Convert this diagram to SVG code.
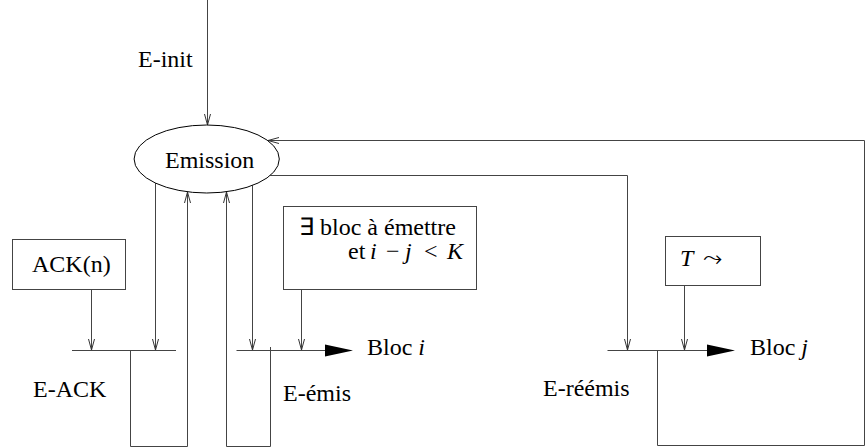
<svg xmlns="http://www.w3.org/2000/svg" width="865" height="447" viewBox="0 0 865 447">
<defs>
<style>
text{font-family:"Liberation Serif","Times New Roman",serif;font-size:24px;fill:#000}
.m{font-style:italic}
.ln{fill:none;stroke:#444;stroke-width:1}
.box{fill:#fff;stroke:#444;stroke-width:1}
</style>
<marker id="v" markerWidth="12" markerHeight="8" refX="11" refY="4" orient="auto" markerUnits="userSpaceOnUse">
<path d="M0,1 L11,4 L0,7" fill="none" stroke="#333" stroke-width="1"/>
</marker>
</defs>
<rect width="865" height="447" fill="#fff"/>
<g id="connectors">
<path class="ln" d="M207.5,0 V125" marker-end="url(#v)"/>
<path class="ln" d="M864.5,445.5 V140.5 H268" marker-end="url(#v)"/>
<path class="ln" d="M270,175.5 H627.5 V350" marker-end="url(#v)"/>
<path class="ln" d="M155.5,182 V350" marker-end="url(#v)"/>
<path class="ln" d="M91.5,290 V350" marker-end="url(#v)"/>
<path class="ln" d="M72,350.5 H176"/>
<path class="ln" d="M130.5,350.5 V446.5 H187.5 V192" marker-end="url(#v)"/>
<path class="ln" d="M226.5,446.5 H270.5 V347"/>
<path class="ln" d="M226.5,446.5 V192" marker-end="url(#v)"/>
<path class="ln" d="M252.5,185 V350" marker-end="url(#v)"/>
<path class="ln" d="M301.5,289 V350" marker-end="url(#v)"/>
<path class="ln" d="M236.5,350.5 H327"/>
<path d="M325,344.5 L353,350.5 L325,356.5 Z" fill="#000"/>
<path class="ln" d="M684.5,285.5 V350" marker-end="url(#v)"/>
<path class="ln" d="M607.5,350.5 H709"/>
<path d="M707,344.5 L735,350.5 L707,356.5 Z" fill="#000"/>
<path class="ln" d="M657.5,350.5 V445.5 H864.5"/>
</g>
<g id="e-init"><text x="138" y="67">E-init</text></g>
<g id="emission">
<ellipse cx="206.7" cy="159" rx="72.6" ry="34" fill="#fff" stroke="#000" stroke-width="1"/>
<text x="165" y="168">Emission</text>
</g>
<g id="ack"><rect class="box" x="12.5" y="239.5" width="113" height="50"/><text x="32" y="272">ACK(n)</text></g>
<g id="cond">
<rect class="box" x="283.5" y="206.5" width="193" height="83"/>
<text x="299" y="235">∃ bloc à émettre</text>
<text y="259"><tspan x="348">et</tspan><tspan class="m" x="370">i</tspan><tspan x="386">−</tspan><tspan class="m" x="405">j</tspan><tspan x="424">&lt;</tspan><tspan class="m" x="447">K</tspan></text>
</g>
<g id="timer">
<rect class="box" x="665.5" y="236.5" width="95" height="49"/>
<text x="680" y="266"><tspan class="m">T</tspan><tspan x="703" style="font-family:'DejaVu Sans',sans-serif;font-size:24px">⤳</tspan></text>
</g>
<g id="labels">
<text x="33" y="397">E-ACK</text>
<text x="283" y="401">E-émis</text>
<text x="543" y="396">E-réémis</text>
<text x="367" y="355">Bloc <tspan class="m">i</tspan></text>
<text x="750" y="355">Bloc <tspan class="m">j</tspan></text>
</g>
</svg>
